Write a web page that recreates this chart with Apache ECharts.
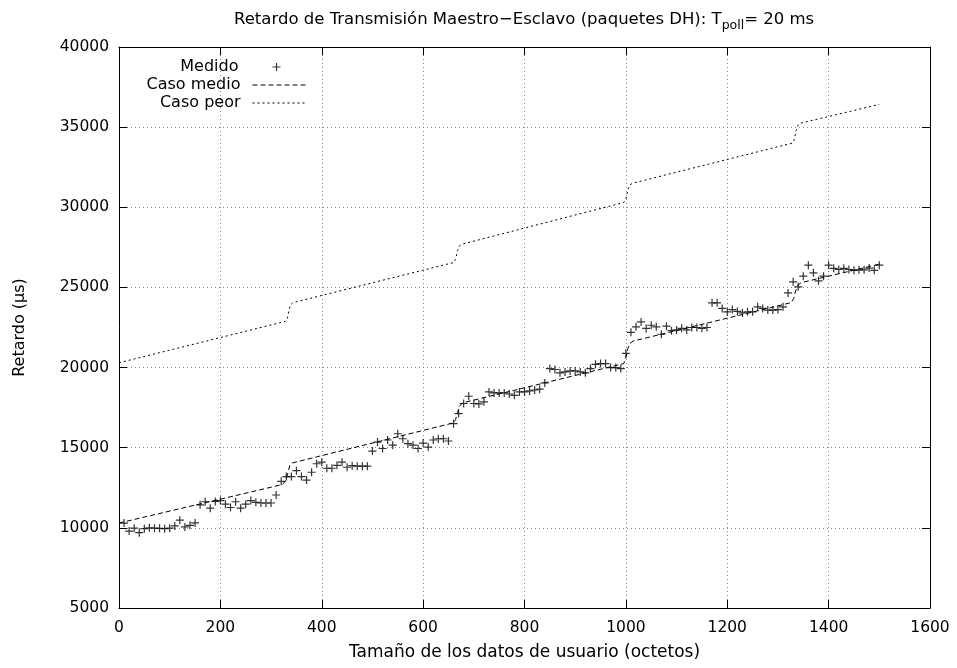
<!DOCTYPE html>
<html>
<head>
<meta charset="utf-8">
<script src="https://cdn.jsdelivr.net/npm/echarts@6/dist/echarts.min.js"></script>
<style>html,body{margin:0;padding:0;background:#fff;}#c{width:957px;height:668px;}</style>
</head>
<body>
<div id="c"></div>
<script>
// Medido: tamaño (octetos) y retardo (µs)
var medidoX = [10,20,30,40,50,60,70,80,90,100,110,120,130,140,150,160,170,180,190,200,
  210,220,230,240,250,260,270,280,290,300,310,320,330,340,350,360,370,380,390,400,
  410,420,430,440,450,460,470,480,490,500,510,520,530,540,550,560,570,580,590,600,
  610,620,630,640,650,660,670,680,690,700,710,720,730,740,750,760,770,780,790,800,
  810,820,830,840,850,860,870,880,890,900,910,920,930,940,950,960,970,980,990,1000,
  1010,1020,1030,1040,1050,1060,1070,1080,1090,1100,1110,1120,1130,1140,1150,1160,1170,1180,1190,1200,
  1210,1220,1230,1240,1250,1260,1270,1280,1290,1300,1310,1320,1330,1340,1350,1360,1370,1380,1390,1400,
  1410,1420,1430,1440,1450,1460,1470,1480,1490,1500];
var medidoY = [10300,9800,9980,9700,9950,10000,9980,9970,9950,9980,10120,10480,10060,10160,10310,11440,11630,11230,11650,11700,
  11480,11270,11630,11230,11480,11700,11590,11550,11550,11550,12050,12900,13200,13200,13570,13200,12980,13470,14000,14100,
  13720,13720,13900,14100,13780,13880,13850,13850,13850,14790,15350,14950,15480,15160,15870,15560,15250,15160,14950,15290,
  15040,15480,15560,15560,15420,16500,17130,17760,18210,17760,17730,17860,18480,18420,18420,18420,18350,18270,18480,18480,
  18540,18600,18650,19040,19940,19880,19670,19730,19790,19790,19730,19670,19940,20200,20250,20250,20000,20000,19940,20890,
  22200,22540,22850,22440,22640,22540,22080,22580,22300,22350,22450,22350,22500,22500,22450,22500,24040,24040,23690,23480,
  23620,23500,23410,23480,23480,23790,23690,23590,23590,23620,23790,24660,25350,25040,25700,26390,25910,25410,25700,26390,
  26190,26120,26190,26120,26070,26100,26100,26210,26070,26390];
// Caso medio
var medioX = [0,322,328,333,337,342,660,664,668,672,678,996,1000,1004,1008,1014,1326,1331,1335,1340,1346,1500];
var medioY = [10300,12700,12900,13400,13900,14050,16550,16750,17200,17600,17800,20250,20600,21200,21500,21650,24050,24300,24800,25150,25300,26450];
// Caso peor
var peorX = [0,328,332,335,338,343,660,664,668,672,677,996,1000,1004,1008,1013,1328,1332,1336,1340,1345,1500];
var peorY = [20300,22880,23050,23500,23900,24050,26550,26750,27300,27600,27700,30300,30500,31100,31400,31500,34000,34200,34800,35150,35250,36420];
// ejes
var xTicks = [0,200,400,600,800,1000,1200,1400,1600];
var yTicks = [5000,10000,15000,20000,25000,30000,35000,40000];
var seriesNames = ['Medido','Caso medio','Caso peor'];

function pairs(xs, ys){ return xs.map(function(x,i){ return [x, ys[i]]; }); }

var FONT = '"DejaVu Sans", "Liberation Sans", Arial, sans-serif';
var plusPath = 'path://M0,5L10,5M5,0L5,10';
var chart = echarts.init(document.getElementById('c'), null, {renderer:'canvas'});

function legendFor(name, top, extra){
  var o = {
    data: [name], orient:'vertical', right: 651, top: top, padding: 0,
    itemWidth: 53, itemHeight: 8, align: 'right', selectedMode: false,
    itemStyle: {opacity: 0},
    lineStyle: {width: 1, color: '#000', opacity: 1},
    textStyle: {fontFamily: FONT, fontSize: 16, color:'#000', padding:[0,7,0,0]}
  };
  for (var k in extra) o[k] = extra[k];
  return o;
}

var axisLabelFmt = function(v){ return String(v); };

var option = {
  animation: false,
  backgroundColor: '#fff',
  title: {
    text: '{a|Retardo de Transmisión Maestro−Esclavo (paquetes DH): T}{s|poll}{a|= 20 ms}',
    left: 229, top: 6,
    textStyle: {
      rich: {
        a: {fontFamily: FONT, fontSize: 16.5, fontWeight:'normal', color:'#000', verticalAlign:'top', lineHeight: 18},
        s: {fontFamily: FONT, fontSize: 12.5, fontWeight:'normal', color:'#000', verticalAlign:'top', lineHeight: 13, padding:[8,0,0,0]}
      }
    }
  },
  legend: [
    legendFor('Medido', 59, {data:[{name:'Medido', icon: plusPath}], itemWidth: 8, right: 674,
      itemStyle:{color:'none', borderColor:'#000', borderWidth:1.2},
      textStyle: {fontFamily: FONT, fontSize: 16, color:'#000', padding:[0,29,0,0]}}),
    legendFor('Caso medio', 77, {}),
    legendFor('Caso peor', 95, {})
  ],
  grid: {left: 119, right: 27, top: 47, bottom: 60, show: false},
  xAxis: [{
    type:'value', min: xTicks[0], max: xTicks[xTicks.length-1], interval: 200,
    name: 'Tamaño de los datos de usuario (octetos)', nameLocation:'middle', nameGap: 36,
    nameTextStyle: {fontFamily: FONT, fontSize: 17, color:'#000'},
    axisLine: {show:true, onZero:false, lineStyle:{color:'#000', width:1}},
    axisTick: {show:true, inside:true, length:8, lineStyle:{color:'#000'}},
    axisLabel: {fontFamily: FONT, fontSize: 15.5, color:'#000', margin: 12, formatter: axisLabelFmt},
    splitLine: {show:true, lineStyle:{color:'#888', type:[1,3], width:1}}
  },{
    type:'value', position:'top', min: xTicks[0], max: xTicks[xTicks.length-1], interval: 200,
    axisLine: {show:true, onZero:false, lineStyle:{color:'#000', width:1}},
    axisTick: {show:true, inside:true, length:8, lineStyle:{color:'#000'}},
    axisLabel: {show:false}, splitLine:{show:false}
  }],
  yAxis: [{
    type:'value', min: yTicks[0], max: yTicks[yTicks.length-1], interval: 5000,
    name: 'Retardo (µs)', nameLocation:'middle', nameGap: 91,
    nameTextStyle: {fontFamily: FONT, fontSize: 16, color:'#000'},
    axisLine: {show:true, onZero:false, lineStyle:{color:'#000', width:1}},
    axisTick: {show:true, inside:true, length:8, lineStyle:{color:'#000'}},
    axisLabel: {fontFamily: FONT, fontSize: 15.5, color:'#000', margin: 10, formatter: axisLabelFmt},
    splitLine: {show:true, lineStyle:{color:'#888', type:[1,3], width:1}}
  },{
    type:'value', position:'right', min: yTicks[0], max: yTicks[yTicks.length-1], interval: 5000,
    axisLine: {show:true, onZero:false, lineStyle:{color:'#000', width:1}},
    axisTick: {show:true, inside:true, length:8, lineStyle:{color:'#000'}},
    axisLabel: {show:false}, splitLine:{show:false}
  }],
  series: [
    {
      name: seriesNames[0], type:'scatter', data: pairs(medidoX, medidoY),
      symbol: plusPath, symbolSize: 8,
      itemStyle: {color:'none', borderColor:'#000', borderWidth:1.2}
    },
    {
      name: seriesNames[1], type:'line', data: pairs(medioX, medioY), symbol:'none',
      lineStyle: {color:'#000', width:1, type:[5,3]}, itemStyle:{color:'#000'}
    },
    {
      name: seriesNames[2], type:'line', data: pairs(peorX, peorY), symbol:'none',
      lineStyle: {color:'#000', width:1, type:[2,3]}, itemStyle:{color:'#000'}
    }
  ]
};
chart.setOption(option);
</script>
</body>
</html>
